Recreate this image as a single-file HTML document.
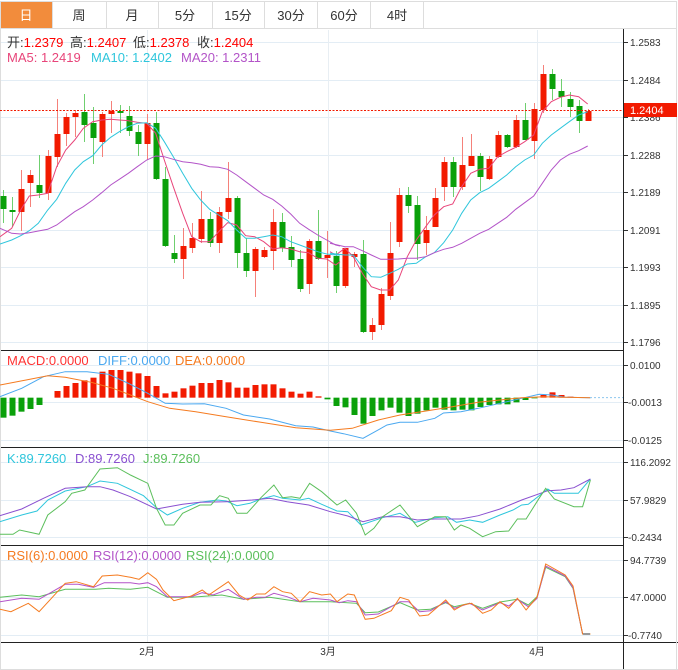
<!DOCTYPE html>
<html><head><meta charset="utf-8"><style>
body{margin:0;background:#fff;width:678px;height:670px;overflow:hidden;font-family:"Liberation Sans","Noto Sans CJK SC",sans-serif;}
svg{position:absolute;left:0;top:0}
text{font-family:"Liberation Sans","Noto Sans CJK SC",sans-serif}
</style></head><body>
<svg id="s" width="678" height="670" xmlns="http://www.w3.org/2000/svg">
<rect x="0" y="0" width="678" height="670" fill="#fff"/>
<rect x="0.5" y="1.5" width="676" height="27" fill="#fff" stroke="#ddd"/>
<rect x="1" y="2" width="51" height="26" fill="#f28c3c"/>
<g stroke="#ddd"><line x1="52.5" y1="2" x2="52.5" y2="28"/><line x1="106.5" y1="2" x2="106.5" y2="28"/><line x1="158.5" y1="2" x2="158.5" y2="28"/><line x1="212.5" y1="2" x2="212.5" y2="28"/><line x1="264.5" y1="2" x2="264.5" y2="28"/><line x1="317.5" y1="2" x2="317.5" y2="28"/><line x1="370.5" y1="2" x2="370.5" y2="28"/><line x1="423.5" y1="2" x2="423.5" y2="28"/></g>
<g font-size="13" text-anchor="middle" fill="#333">
<text x="26" y="20" fill="#fff">日</text><text x="79" y="20">周</text><text x="132" y="20">月</text><text x="185" y="20">5分</text><text x="238" y="20">15分</text><text x="291" y="20">30分</text><text x="344" y="20">60分</text><text x="397" y="20">4时</text></g>
<g id="grid"></g>
<g id="g"></g>
<g font-size="13">
<text y="47" fill="#333"><tspan x="7">开:</tspan><tspan fill="#f00">1.2379</tspan><tspan x="70">高:</tspan><tspan fill="#f00">1.2407</tspan><tspan x="133">低:</tspan><tspan fill="#f00">1.2378</tspan><tspan x="197">收:</tspan><tspan fill="#f00">1.2404</tspan></text>
<text y="62"><tspan x="7" fill="#e8457a">MA5: 1.2419</tspan><tspan x="91" fill="#2fc6dc">MA10: 1.2402</tspan><tspan x="181" fill="#b354c8">MA20: 1.2311</tspan></text>
<text y="365"><tspan x="7" fill="#f33">MACD:0.0000</tspan><tspan x="98" fill="#4aa8f0">DIFF:0.0000</tspan><tspan x="175" fill="#f57b20">DEA:0.0000</tspan></text>
<text y="463"><tspan x="7" fill="#2fc6dc">K:89.7260</tspan><tspan x="75" fill="#8a50d0">D:89.7260</tspan><tspan x="143" fill="#5cbf5c">J:89.7260</tspan></text>
<text y="560"><tspan x="7" fill="#f57b20">RSI(6):0.0000</tspan><tspan x="93" fill="#b354c8">RSI(12):0.0000</tspan><tspan x="186" fill="#5cbf5c">RSI(24):0.0000</tspan></text>
</g>
<g font-size="10" fill="#333" id="ax">
<text x="630" y="46">1.2583</text><text x="630" y="84">1.2484</text><text x="630" y="121">1.2386</text><text x="630" y="159">1.2288</text><text x="630" y="196">1.2189</text><text x="630" y="234">1.2091</text><text x="630" y="271">1.1993</text><text x="630" y="309">1.1895</text><text x="630" y="346">1.1796</text>
<text x="630" y="369">0.0100</text><text x="628" y="406">-0.0013</text><text x="628" y="444">-0.0125</text>
<text x="630" y="466">116.2092</text><text x="630" y="504">57.9829</text><text x="628" y="541">-0.2434</text>
<text x="630" y="564">94.7739</text><text x="630" y="601">47.0000</text><text x="628" y="639">-0.7740</text>
<text x="147" y="655" text-anchor="middle">2月</text><text x="328" y="655" text-anchor="middle">3月</text><text x="537" y="655" text-anchor="middle">4月</text>
</g>
<rect x="624" y="103" width="53" height="14" fill="#f21a00"/>
<text x="630" y="114" font-size="11" fill="#fff">1.2404</text>
</svg>
<script>
var NS="http://www.w3.org/2000/svg",g=document.getElementById('g'),gr=document.getElementById('grid');
function el(p,t,a){var e=document.createElementNS(NS,t);for(var k in a)e.setAttribute(k,a[k]);p.appendChild(e);return e;}
[42,80,117,155,192,230,267,305,342,365,402,440,462,500,537,560,597,635].forEach(function(y){el(gr,'line',{x1:0,x2:623,y1:y+.5,y2:y+.5,stroke:'#e3edf5'});el(gr,'line',{x1:623,x2:628,y1:y+.5,y2:y+.5,stroke:'#333'});});
[147,328,537].forEach(function(x){el(gr,'line',{x1:x+.5,x2:x+.5,y1:30,y2:642,stroke:'#e8eef3'});});
[350,447,545,642].forEach(function(y){el(gr,'line',{x1:0,x2:(y==642?678:623),y1:y+.5,y2:y+.5,stroke:'#222'});});
el(gr,'line',{x1:623.5,x2:623.5,y1:29,y2:670,stroke:'#222'});
el(gr,'line',{x1:676.5,x2:676.5,y1:29,y2:670,stroke:'#ddd'});
el(gr,'line',{x1:0.5,x2:0.5,y1:29,y2:670,stroke:'#ddd'});
el(gr,'line',{x1:0,x2:678,y1:669.5,y2:669.5,stroke:'#ddd'});
var C=[[0,196,209,190,223],[0,210,212,197,227],[1,189,212,170,231],[1,175,183,170,207],[0,185,193,155,198],[1,156,193,150,200],[1,134,157,99,167],[1,117,134,113,146],[1,113,117,110,137],[0,112,125,94,142],[0,123,138,107,164],[1,114,142,112,157],[1,111,114,101,133],[0,111,113,105,133],[0,116,131,106,136],[0,132,144,125,156],[1,123,144,114,160],[0,123,179,112,180],[0,179,246,167,247],[0,253,259,235,263],[1,246,259,228,279],[1,238,248,223,253],[1,219,239,191,243],[0,219,243,212,247],[1,212,243,207,253],[1,198,212,162,219],[0,198,253,196,268],[0,253,271,238,277],[1,249,271,247,297],[1,250,257,247,258],[1,222,251,209,270],[0,222,248,213,252],[0,247,260,236,267],[0,259,289,250,292],[1,241,284,239,294],[0,241,259,210,260],[1,255,258,231,278],[0,256,286,251,293],[1,248,286,248,288],[1,254,257,252,267],[0,254,332,240,333],[1,325,332,318,340],[1,294,325,288,330],[1,253,296,222,300],[1,195,242,188,247],[0,195,206,187,213],[0,205,244,196,260],[1,230,243,216,255],[1,198,227,188,227],[1,162,187,157,201],[0,162,187,157,197],[1,165,187,137,190],[1,156,166,134,166],[0,156,177,153,191],[1,159,179,156,180],[1,135,157,131,158],[0,135,147,134,148],[1,120,147,115,148],[0,120,140,103,140],[1,109,141,103,159],[1,74,110,65,113],[0,74,89,69,100],[0,91,97,79,107],[0,99,107,92,117],[0,106,121,100,133],[1,111,121,109,121]];
C.forEach(function(c,i){var x=3.5+i*9,col=c[0]?'#f21a00':'#0aa00a',wc=c[0]?'#f5817a':'#6fcf6f';
el(g,'line',{x1:x,x2:x,y1:c[3],y2:c[4],stroke:wc});
el(g,'rect',{x:x-3,y:c[1],width:6,height:Math.max(2,c[2]-c[1]),fill:col});});
el(g,'line',{x1:0,x2:623,y1:110.5,y2:110.5,stroke:'#f21a00','stroke-dasharray':'2,1.5'});
function pl(pts,col,sx,sy,ox,oy){var s=pts.map(function(p){return (ox+p[0]/sx).toFixed(1)+','+(oy+p[1]/sy).toFixed(1)}).join(' ');el(g,'polyline',{points:s,fill:'none',stroke:col,'stroke-width':1});}
function two(a,b,col){pl(a,col,3,3,0,60);pl(b,col,3,3,330,60);}
two([[0,530],[35,505],[62,450],[88,408],[115,405],[143,400],[170,320],[197,270],[224,240],[250,205],[278,185],[305,180],[332,178],[358,180],[385,182],[412,187],[440,190],[467,220],[493,300],[520,380],[548,460],[575,530],[602,545],[629,545],[656,515],[683,488],[710,495],[737,527],[764,530],[791,545],[818,567],[845,563],[872,567],[899,575],[926,578],[953,595],[980,597],[1007,615],[1020,605]],
[[0,575],[17,585],[45,565],[70,590],[97,640],[124,680],[152,690],[179,690],[205,660],[232,590],[259,540],[287,500],[313,465],[341,440],[368,432],[395,380],[422,340],[449,328],[476,325],[503,290],[530,275],[557,262],[584,245],[611,225],[637,155],[664,125],[691,112],[718,105],[746,110],[773,132]],'#e8457a');
two([[0,552],[35,540],[62,527],[88,512],[115,490],[143,450],[170,418],[197,370],[224,330],[250,305],[278,287],[305,255],[332,232],[358,215],[385,200],[412,190],[440,188],[467,205],[493,245],[520,290],[548,340],[575,385],[602,420],[629,448],[656,465],[683,482],[710,510],[737,535],[764,535],[791,530],[818,525],[845,530],[872,545],[899,555],[926,565],[953,575],[980,582],[1007,585],[1020,585]],
[[0,580],[45,585],[70,585],[97,620],[124,650],[152,652],[179,640],[205,628],[232,612],[259,610],[287,590],[313,578],[341,548],[368,510],[395,460],[422,420],[449,398],[476,385],[503,365],[530,345],[557,320],[584,300],[611,285],[637,250],[664,225],[691,205],[718,185],[746,165],[773,155]],'#2fc6dc');
two([[0,505],[35,520],[62,522],[88,518],[115,513],[143,508],[170,495],[197,475],[224,455],[250,440],[278,420],[305,398],[332,375],[358,358],[385,340],[412,320],[440,300],[467,288],[493,290],[520,298],[548,305],[575,308],[602,313],[629,320],[656,322],[683,328],[710,345],[737,365],[764,385],[791,405],[818,418],[845,438],[872,462],[899,490],[926,508],[953,525],[980,540],[1007,555],[1020,558]],
[[0,550],[45,560],[70,560],[97,572],[124,585],[152,598],[179,598],[205,597],[232,595],[259,595],[287,590],[313,578],[341,568],[368,562],[395,550],[422,535],[449,520],[476,508],[503,490],[530,472],[557,448],[584,428],[611,408],[637,370],[664,330],[691,300],[718,283],[746,272],[773,258]],'#b354c8');
var H=[218,212,200,192,180,157,138,123,114,106,98,80,75,75,80,85,93,123,145,140,130,122,114,114,105,112,128,128,120,118,118,130,140,146,140,154,163,183,187,210,236,213,196,188,203,213,206,196,188,194,196,194,196,186,180,178,178,172,165,160,150,142,150,155,158,158];
var z=345+158/3;
H.forEach(function(v,i){var y=345+v/3,x=3.5+i*9;if(Math.abs(y-z)<0.6)return;el(g,'rect',{x:x-3,y:Math.min(y,z),width:6,height:Math.abs(y-z),fill:y<z?'#f21a00':'#0aa00a'});});
pl([[0,155],[50,130],[100,95],[150,80],[200,80],[250,88],[300,118],[340,145],[380,175],[420,177],[470,176],[520,190],[560,210],[620,222],[680,242],[720,246],[760,258],[790,266],[835,280],[860,262],[890,240],[920,232],[960,232],[1000,220],[1020,204],[1060,200],[1100,190],[1150,175],[1200,160],[1240,148],[1270,150],[1300,157],[1358,158]],'#4aa8f0',2.3,3,0,345);
pl([[0,120],[60,105],[110,92],[150,97],[210,112],[260,130],[300,150],[340,170],[390,190],[450,200],[520,215],[600,232],[680,248],[760,256],[810,250],[870,225],[920,210],[980,198],[1040,185],[1100,172],[1150,165],[1200,158],[1250,155],[1300,157],[1358,158]],'#f57b20',2.3,3,0,345);
el(g,'line',{x1:590,x2:623,y1:z,y2:z,stroke:'#8cc6ee','stroke-dasharray':'2,2'});
pl([[0,230],[50,210],[85,198],[110,165],[150,138],[200,125],[230,108],[270,115],[330,152],[360,188],[385,210],[420,190],[460,172],[500,165],[520,168],[545,182],[575,175],[600,162],[630,152],[650,160],[690,165],[710,160],[740,178],[775,198],[800,200],[830,240],[880,218],[920,205],[955,232],[1000,218],[1030,215],[1050,232],[1080,225],[1110,232],[1150,210],[1180,195],[1200,180],[1215,178],[1260,132],[1275,145],[1330,145],[1358,102]],'#2fc6dc',2.3,3,0,445);
pl([[0,212],[50,192],[100,160],[150,130],[200,125],[230,125],[260,135],[300,155],[360,192],[420,178],[460,172],[520,170],[580,165],[620,160],[660,170],[710,180],[760,200],[800,213],[835,230],[880,215],[920,215],[960,225],[1000,222],[1060,222],[1100,212],[1150,192],[1200,165],[1260,137],[1290,135],[1320,128],[1358,102]],'#8a50d0',2.3,3,0,445);
pl([[0,268],[30,268],[45,255],[90,268],[110,210],[150,170],[165,145],[195,135],[230,72],[270,68],[300,90],[340,115],[360,190],[380,240],[400,240],[420,205],[460,180],[485,180],[505,152],[525,160],[545,205],[568,205],[600,158],[630,120],[650,158],[670,155],[690,160],[712,115],[740,140],[775,180],[795,165],[820,205],[840,270],[860,250],[880,215],[920,180],[960,245],[1000,215],[1025,215],[1045,255],[1060,240],[1080,250],[1110,275],[1140,260],[1170,258],[1190,222],[1210,222],[1240,160],[1255,130],[1275,162],[1320,185],[1340,185],[1358,105]],'#5cbf5c',2.3,3,0,445);
pl([[0,172],[50,165],[90,170],[150,148],[220,148],[250,145],[300,148],[340,142],[385,172],[440,172],[510,165],[560,178],[620,172],[690,185],[760,185],[820,190],[840,218],[870,216],[920,188],[960,210],[990,208],[1025,188],[1045,200],[1080,190],[1110,205],[1150,186],[1190,178],[1215,195],[1235,170],[1255,82],[1300,110],[1318,145],[1340,282],[1358,282]],'#5cbf5c',2.3,3,0,540);
pl([[0,185],[50,175],[90,178],[150,133],[180,133],[215,142],[240,128],[300,128],[320,132],[340,128],[360,140],[385,170],[440,170],[465,158],[490,165],[525,148],[560,178],[590,172],[610,172],[630,160],[660,170],[690,185],[720,175],[760,180],[780,188],[800,182],[820,185],[840,225],[870,222],[920,185],[940,185],[965,215],[990,212],[1025,185],[1045,205],[1080,190],[1110,210],[1150,188],[1170,198],[1190,178],[1215,200],[1235,175],[1255,78],[1300,108],[1318,143],[1340,282]],'#b354c8',2.3,3,0,540);
pl([[0,208],[25,215],[65,190],[90,215],[150,130],[175,125],[215,140],[235,108],[270,105],[300,112],[320,118],[340,98],[360,118],[375,150],[400,182],[440,168],[465,150],[480,165],[525,125],[550,165],[570,180],[590,162],[610,162],[630,140],[650,155],[670,160],[690,185],[712,155],[740,165],[760,162],[775,185],[800,162],[815,165],[840,238],[860,235],[900,212],[920,172],[940,180],[965,228],[985,225],[1025,180],[1045,210],[1065,195],[1085,190],[1110,220],[1130,210],[1150,185],[1170,205],[1190,175],[1210,210],[1235,172],[1255,72],[1300,105],[1318,138],[1340,282],[1358,282]],'#f57b20',2.3,3,0,540);
el(g,'line',{x1:583,x2:590,y1:634,y2:634,stroke:'#999','stroke-width':2});
</script>
</body></html>
